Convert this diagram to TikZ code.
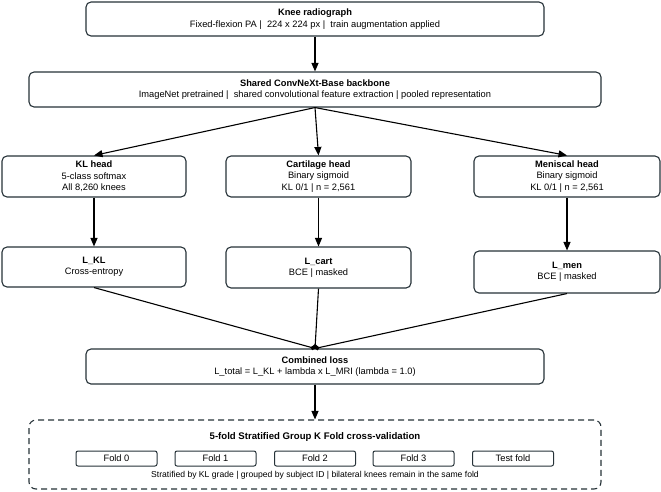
\documentclass[tikz,border=0pt]{standalone}
\usepackage{fontspec}
\setmainfont{Liberation Sans}
\usetikzlibrary{arrows.meta}
\definecolor{edgecol}{HTML}{263238}
\begin{document}
\begin{tikzpicture}[x=1pt,y=-1pt,
  box/.style={draw=edgecol, line width=1.1pt, rounded corners=5pt, fill=white,
    align=center, inner sep=0pt, font=\fontsize{9.3}{11.4}\selectfont},
  foldbox/.style={draw=edgecol, line width=1pt, rounded corners=2pt, fill=white,
    inner sep=0pt, minimum width=81pt, minimum height=15pt, font=\fontsize{9.3}{11}\selectfont},
  cvbox/.style={draw=edgecol, line width=1.1pt, rounded corners=7pt, dashed,
    dash pattern=on 6pt off 4pt, inner sep=0pt},
  arr/.style={line width=1.1pt, draw=black, -{Triangle[length=8.5pt,width=7pt]}},
  mrg/.style={line width=1.1pt, draw=black, -{Circle[length=4.5pt]}},
  lbl/.style={inner sep=0pt, font=\fontsize{9}{11}\selectfont}
]
\useasboundingbox (0,0) rectangle (661,491);

\node[box, minimum width=458pt, minimum height=34pt] (knee) at (315,19)
  {\textbf{Knee radiograph}\\Fixed-flexion PA |~ 224 x 224 px |~ train augmentation applied};
\node[box, minimum width=572pt, minimum height=35pt] (bb) at (315,89.5)
  {\textbf{Shared ConvNeXt-Base backbone}\\ImageNet pretrained |~ shared convolutional feature extraction | pooled representation};

\node[box, minimum width=184pt, minimum height=41pt] (klh) at (94,176.5)
  {\textbf{KL head}\\5-class softmax\\All 8,260 knees};
\node[box, minimum width=185pt, minimum height=41pt] (cart) at (318.5,176.5)
  {\textbf{Cartilage head}\\Binary sigmoid\\KL 0/1 | n = 2,561};
\node[box, minimum width=186pt, minimum height=41pt] (men) at (567,176.5)
  {\textbf{Meniscal head}\\Binary sigmoid\\KL 0/1 | n = 2,561};

\node[box, minimum width=184pt, minimum height=40pt] (lkl) at (94,267)
  {\textbf{L\_KL}\\Cross-entropy};
\node[box, minimum width=185pt, minimum height=41pt] (lcart) at (318.5,267.5)
  {\textbf{L\_cart}\\BCE | masked};
\node[box, minimum width=186pt, minimum height=42pt] (lmen) at (567,272)
  {\textbf{L\_men}\\BCE | masked};

\node[box, minimum width=458pt, minimum height=35pt] (comb) at (315,366.5)
  {\textbf{Combined loss}\\L\_total = L\_KL + lambda x L\_MRI (lambda = 1.0)};

\node[cvbox, minimum width=572pt, minimum height=69pt] (cv) at (315,454.5) {};
\node[lbl, font=\fontsize{9.6}{11}\selectfont\bfseries] (cvt) at (315,437)
  {5-fold Stratified Group K Fold cross-validation};
\node[foldbox] (f0) at (116.5,458.5) {Fold 0};
\node[foldbox] (f1) at (215.5,458.5) {Fold 1};
\node[foldbox] (f2) at (315,458.5) {Fold 2};
\node[foldbox] (f3) at (413.5,458.5) {Fold 3};
\node[foldbox] (ft) at (513,458.5) {Test fold};
\node[lbl, font=\fontsize{8.6}{10}\selectfont] (cvn) at (315,475.5)
  {Stratified by KL grade | grouped by subject ID | bilateral knees remain in the same fold};

\draw[arr] (knee) -- (bb);
\draw[arr] (bb.south) -- (klh.north);
\draw[arr] (bb.south) -- (cart.north);
\draw[arr] (bb.south) -- (men.north);
\draw[arr] (klh) -- (lkl);
\draw[arr] (cart) -- (lcart);
\draw[arr] (men) -- (lmen);
\draw[mrg] (lkl.south) -- (comb.north);
\draw[mrg] (lcart.south) -- (comb.north);
\draw[mrg] (lmen.south) -- (comb.north);
\draw[arr] (comb) -- (cv);
\end{tikzpicture}
\end{document}
